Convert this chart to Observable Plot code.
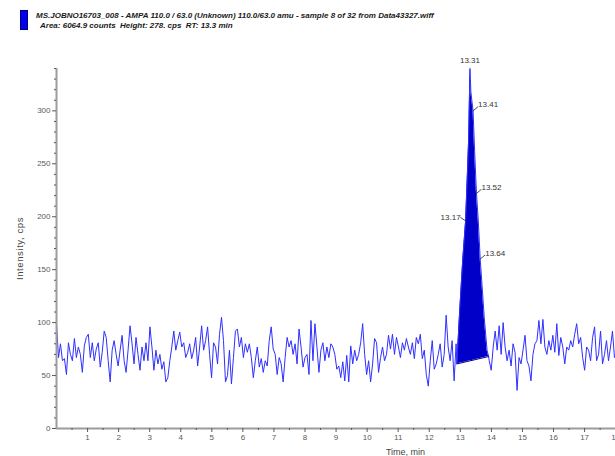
<!DOCTYPE html>
<html>
<head>
<meta charset="utf-8">
<script src="https://cdn.jsdelivr.net/npm/d3@7"></script>
<script src="https://cdn.jsdelivr.net/npm/@observablehq/plot@0.6"></script>
<style>
  html, body { margin: 0; padding: 0; background: #fff; overflow: hidden; width: 615px; height: 456px; }
  #head { position: absolute; left: 0; top: 0; width: 615px; height: 40px;
          font-family: "Liberation Sans", Arial, sans-serif; font-weight: bold; font-style: italic;
          color: #1a1a1a; white-space: nowrap; line-height: 1; font-size: 8px; }
  #swatch { position: absolute; left: 20px; top: 10px; width: 6px; height: 18px; background: #0000f0; border: 1px solid #000070; }
  #line1 { position: absolute; left: 36px; top: 12px; }
  #line2 { position: absolute; left: 40px; top: 21.5px; }
  #chart { position: absolute; left: 0; top: 40px; width: 754px; }
  #chart svg { max-width: none !important; }
</style>
</head>
<body>
<div id="head">
  <div id="swatch"></div>
  <div id="line1">MS.JOBNO16703_008 - AMPA 110.0 / 63.0 (Unknown) 110.0/63.0 amu - sample 8 of 32 from Data43327.wiff</div>
  <div id="line2">Area: 6064.9 counts &nbsp;Height: 278. cps &nbsp;RT: 13.3 min</div>
</div>
<div id="chart"></div>
<script>
// XIC trace for AMPA 110.0/63.0, intensity in cps.
// Scans are evenly spaced; the background before and after the peak is listed scan by scan.
const scanStep = 0.064;          // min between scans
const firstScanTime = 0;         // min
const resumeScanTime = 13.93;    // first scan after the integrated peak

const backgroundBefore = [
  99,67,80,64,66,51,81,70,64,85,
  67,77,70,53,78,86,89,67,81,64,
  75,81,58,72,92,86,64,44,74,83,
  70,59,74,88,64,53,74,97,80,61,
  86,70,55,77,64,81,64,96,77,55,
  74,61,70,56,63,44,48,64,77,92,
  74,83,91,77,81,67,72,80,66,74,
  86,59,77,97,74,83,96,70,48,81,
  77,61,89,105,83,44,50,74,42,67,
  92,94,77,86,67,80,72,80,67,48,
  64,77,58,66,53,64,59,83,96,75,
  70,51,67,61,44,67,86,77,83,70,
  80,61,94,77,58,67,70,51,102,64,
  99,77,53,74,81,64,77,67,80,
  77,70,56,59,48,63,45,69,44,78,
  61,74,64,70,81,99,70,51,64,44,
  61,85,81,53,67,77,64,70,88,75,
  89,70,86,77,67,81,74,85,77,70,
  81,66,86,80,89,66,74,51,40,64,
  83,56,61,70,80,58,70,107,77,64,
  83,45,80
];

// Integrated peak (start and end points define the drawn baseline)
const peakTimes  = [12.89, 12.95, 13.00, 13.08, 13.17, 13.24, 13.27, 13.31, 13.34, 13.37, 13.41, 13.46, 13.52, 13.58, 13.64, 13.70, 13.77, 13.86, 13.91];
const peakValues = [61,    95,    121,   160,   196,   250,   275,   340,   318,   310,   300,   262,   222,   195,   160,   135,   105,   74,    68];

const backgroundAfter = [
  64,55,77,92,74,97,70,100,77,64,
  74,59,80,72,36,67,61,74,88,64,
  59,45,70,80,83,102,80,103,77,70,
  83,74,88,72,99,69,86,77,61,77,
  74,83,77,89,99,80,86,67,55,77,
  74,64,86,96,64,70,92,61,70,83,
  64,77,92,67,70
];

// Retention times annotated on the peak
const labeledTimes = [13.17, 13.31, 13.41, 13.52, 13.64];

// Axis ticks
const xTickLabels = [1,2,3,4,5,6,7,8,9,10,11,12,13,14,15,16,17,18];
const yTickLabels = [0,50,100,150,200,250,300];

// ---- build rows ----
const before = backgroundBefore.map((v, i) => ({t: firstScanTime + i * scanStep, v}));
const peak = peakTimes.map((t, i) => ({t, v: peakValues[i]}));
const after = backgroundAfter.map((v, i) => ({t: resumeScanTime + i * scanStep, v}));
const trace = [...before, ...peak, ...after];

const p0 = peak[0], p1 = peak[peak.length - 1];
const baseAt = t => p0.v + (p1.v - p0.v) * (t - p0.t) / (p1.t - p0.t);
const peakArea = peak.map(d => ({t: d.t, v: d.v, base: baseAt(d.t)}));
const baseline = [p0, p1];

const apex = peak.reduce((a, b) => (b.v > a.v ? b : a));
const labelRows = labeledTimes.map(t => ({t, v: peak.find(d => d.t === t).v, text: t.toFixed(2)}));
const apexRow = labelRows.filter(d => d.t === apex.t);
const leftRows = labelRows.filter(d => d.t < apex.t);
const rightRows = labelRows.filter(d => d.t > apex.t);

const xMinor = d3.range(0.5, 18.01, 0.5).filter(t => !xTickLabels.includes(t));
const yMinor = d3.range(10, 341, 10).filter(v => !yTickLabels.includes(v));

const leader = {draw(context, l) { context.moveTo(0, 0); context.lineTo(0, -l); }};

const chart = Plot.plot({
  width: 754,
  height: 416,
  marginLeft: 56,
  marginRight: 0,
  marginTop: 28,
  marginBottom: 28,
  x: {domain: [0, 22.47]},
  y: {domain: [0, 340]},
  style: {fontFamily: "'Liberation Sans', Arial, sans-serif", fontSize: "8px", color: "#5a5a5a", background: "transparent", maxWidth: "none"},
  marks: [
    Plot.areaY(peakArea, {x: "t", y1: "base", y2: "v", fill: "#0000c8"}),
    Plot.line(trace, {x: "t", y: "v", stroke: "#2f2fff", strokeWidth: 1}),
    Plot.line(baseline, {x: "t", y: "v", stroke: "#00008c", strokeWidth: 1}),
    Plot.ruleX([0], {stroke: "#9c9c9c", strokeWidth: 2}),
    Plot.ruleY([0], {stroke: "#9c9c9c", strokeWidth: 2}),
    Plot.axisX({ticks: xTickLabels, tickSize: 4, tickPadding: 2, label: "Time, min", labelAnchor: "center", labelArrow: false, labelOffset: 26}),
    Plot.axisX({ticks: xMinor, tickSize: 2, tickFormat: () => "", label: null}),
    Plot.axisY({ticks: yTickLabels, tickSize: 4, tickPadding: 2, label: "Intensity, cps", labelAnchor: "center", labelArrow: false, labelOffset: 40}),
    Plot.axisY({ticks: yMinor, tickSize: 2, tickFormat: () => "", label: null}),
    Plot.vector(rightRows, {x: "t", y: "v", length: 6, rotate: 50, anchor: "start", shape: leader, stroke: "#333", strokeWidth: 0.8}),
    Plot.vector(leftRows, {x: "t", y: "v", length: 6, rotate: -55, anchor: "start", shape: leader, stroke: "#333", strokeWidth: 0.8}),
    Plot.text(apexRow, {x: "t", y: "v", text: "text", dy: -6, lineAnchor: "bottom", fill: "#333", fontSize: 8}),
    Plot.text(rightRows, {x: "t", y: "v", text: "text", dx: 5, dy: -6, textAnchor: "start", fill: "#333", fontSize: 8}),
    Plot.text(leftRows, {x: "t", y: "v", text: "text", dx: -5, dy: -4, textAnchor: "end", fill: "#333", fontSize: 8})
  ]
});

// Axis titles: slightly larger and more widely spaced than the tick labels
d3.select(chart).selectAll("text").each(function() {
  const s = this.textContent;
  if (s === "Intensity, cps") {
    d3.select(this).style("font-size", "9.5px").style("letter-spacing", "0.6px").attr("fill", "#444");
  } else if (s === "Time, min") {
    d3.select(this).style("font-size", "9px").attr("fill", "#444");
  }
});

document.getElementById("chart").append(chart);
</script>
</body>
</html>
